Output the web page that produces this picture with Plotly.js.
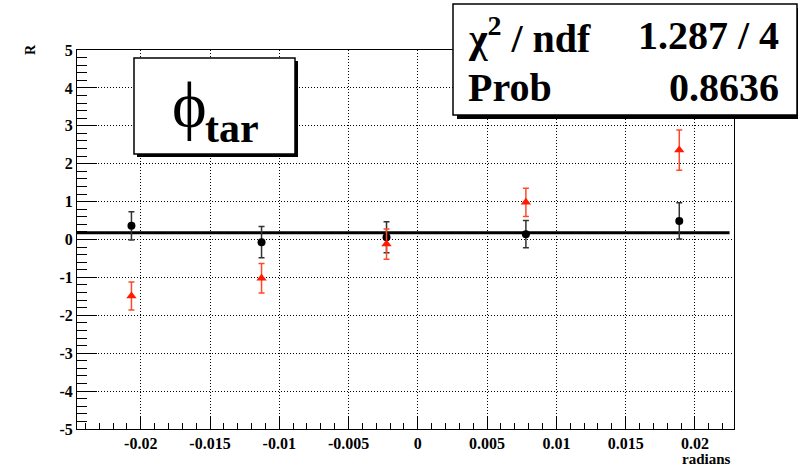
<!DOCTYPE html>
<html>
<head>
<meta charset="utf-8">
<script src="https://cdn.plot.ly/plotly-3.0.1.min.js"></script>
<style>html,body{margin:0;padding:0;background:#fff;}#chart{width:798px;height:469px;}</style>
</head>
<body>
<div id="chart"></div>
<script>
// ---- data ----
var xPoints = [-0.02067, -0.01128, -0.00226, 0.0078, 0.01887];
var blackR = [0.36, -0.07, 0.06, 0.14, 0.49];
var blackErr = [0.37, 0.41, 0.41, 0.36, 0.48];
var redR = [-1.49, -1.02, -0.12, 0.98, 2.36];
var redErr = [0.37, 0.39, 0.40, 0.37, 0.53];
var fitX = [-0.0246, 0.0225];
var fitY = [0.18, 0.18];
var xTickVals = [-0.02, -0.015, -0.01, -0.005, 0, 0.005, 0.01, 0.015, 0.02];
var xTickText = ["-0.02", "-0.015", "-0.01", "-0.005", "0", "0.005", "0.01", "0.015", "0.02"];
var yTickVals = [-5, -4, -3, -2, -1, 0, 1, 2, 3, 4, 5];
var yTickText = ["-5", "-4", "-3", "-2", "-1", "0", "1", "2", "3", "4", "5"];
var statLabels = ["\u03c7<sup>2</sup> / ndf", "Prob"];
var statValues = ["1.287 / 4", "0.8636"];
var titleMain = "\u03d5";
var titleSub = "tar";

// ---- layout helpers (pixel -> paper) ----
var L = 77, R = 734, T = 50, B = 429;
function px(v) { return (v - L) / (R - L); }
function py(v) { return (B - v) / (B - T); }

var serif = "Times New Roman";
function bold(s) { return "<b>" + s + "</b>"; }

var traces = [
  {x: fitX, y: fitY, type: "scatter", mode: "lines", line: {color: "#000", width: 3}, hoverinfo: "skip"},
  {x: xPoints, y: blackR, type: "scatter", mode: "markers",
   marker: {symbol: "circle", size: 8, color: "#000"},
   error_y: {type: "data", array: blackErr, visible: true, color: "#333", thickness: 1.5, width: 3}},
  {x: xPoints, y: redR, type: "scatter", mode: "markers",
   marker: {symbol: "triangle-up", size: 9, color: "#ff1a00"},
   error_y: {type: "data", array: redErr, visible: true, color: "#ff4a2a", thickness: 1.5, width: 3}}
];

var tickFont = {family: serif, size: 16, weight: "bold", color: "#000"};

var layout = {
  width: 798, height: 469,
  margin: {l: L, r: 798 - R, t: T, b: 469 - B},
  showlegend: false,
  xaxis: {
    range: [-0.0246, 0.02282], tickvals: xTickVals, ticktext: xTickText.map(bold),
    ticks: "inside", ticklen: 12, tickwidth: 1, tickcolor: "#000",
    showline: true, linecolor: "#000", linewidth: 1, mirror: true,
    showgrid: true, gridcolor: "#000", gridwidth: 1, griddash: "1px,2px",
    zeroline: false, tickfont: tickFont,
    minor: {dtick: 0.001, tick0: 0, ticks: "inside", ticklen: 6, tickcolor: "#000", showgrid: false}
  },
  yaxis: {
    range: [-5, 5], tickvals: yTickVals, ticktext: yTickText.map(bold),
    ticks: "inside", ticklen: 20, tickwidth: 1, tickcolor: "#000",
    showline: true, linecolor: "#000", linewidth: 1, mirror: true,
    showgrid: true, gridcolor: "#000", gridwidth: 1, griddash: "1px,2px",
    zeroline: false, tickfont: tickFont,
    minor: {dtick: 0.2, tick0: 0, ticks: "inside", ticklen: 10, tickcolor: "#000", showgrid: false}
  },
  shapes: [
    {type: "rect", xref: "paper", yref: "paper", x0: px(457), x1: px(801), y0: py(119), y1: py(8), fillcolor: "#000", line: {width: 0}, layer: "above"},
    {type: "rect", xref: "paper", yref: "paper", x0: px(453), x1: px(797), y0: py(115), y1: py(4), fillcolor: "#fff", line: {color: "#000", width: 1.5}, layer: "above"},
    {type: "rect", xref: "paper", yref: "paper", x0: px(137), x1: px(298), y0: py(157), y1: py(61), fillcolor: "#000", line: {width: 0}, layer: "above"},
    {type: "rect", xref: "paper", yref: "paper", x0: px(134), x1: px(295), y0: py(154), y1: py(58), fillcolor: "#fff", line: {color: "#000", width: 1.5}, layer: "above"}
  ],
  annotations: [
    {xref: "paper", yref: "paper", x: px(466), y: py(35), xanchor: "left", yanchor: "middle", showarrow: false,
     text: bold(statLabels[0]), font: {family: serif, size: 40, color: "#000"}},
    {xref: "paper", yref: "paper", x: px(781), y: py(35), xanchor: "right", yanchor: "middle", showarrow: false,
     text: bold(statValues[0]), font: {family: serif, size: 40, color: "#000"}},
    {xref: "paper", yref: "paper", x: px(466), y: py(88), xanchor: "left", yanchor: "middle", showarrow: false,
     text: bold(statLabels[1]), font: {family: serif, size: 40, color: "#000"}},
    {xref: "paper", yref: "paper", x: px(781), y: py(88), xanchor: "right", yanchor: "middle", showarrow: false,
     text: bold(statValues[1]), font: {family: serif, size: 40, color: "#000"}},
    {xref: "paper", yref: "paper", x: px(189), y: py(104), xanchor: "center", yanchor: "middle", showarrow: false,
     text: titleMain, font: {family: serif, size: 66, color: "#000"}},
    {xref: "paper", yref: "paper", x: px(203), y: py(128), xanchor: "left", yanchor: "middle", showarrow: false,
     text: bold(titleSub), font: {family: serif, size: 42, color: "#000"}},
    {xref: "paper", yref: "paper", x: px(30), y: py(50), xanchor: "center", yanchor: "middle", showarrow: false,
     textangle: -90, text: bold("R"), font: {family: serif, size: 14, color: "#000"}},
    {xref: "paper", yref: "paper", x: px(733), y: py(459), xanchor: "right", yanchor: "middle", showarrow: false,
     text: bold("radians"), font: {family: serif, size: 15, color: "#000"}}
  ]
};

Plotly.newPlot("chart", traces, layout, {displayModeBar: false, staticPlot: true});
</script>
</body>
</html>
